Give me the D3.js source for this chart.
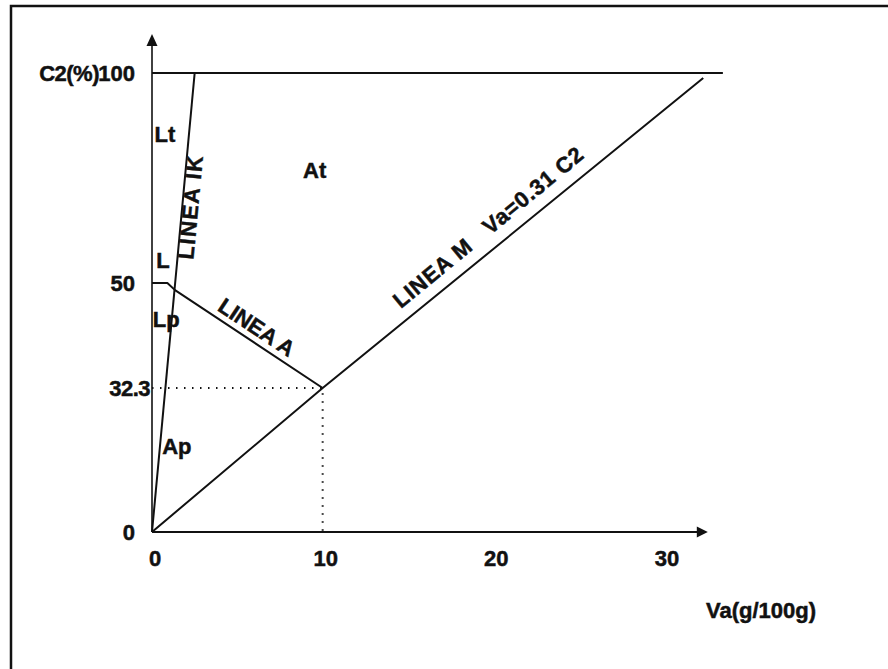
<!DOCTYPE html>
<html>
<head>
<meta charset="utf-8">
<script src="https://cdn.jsdelivr.net/npm/d3@7"></script>
<style>
  html, body { margin: 0; padding: 0; background: #fff; }
  svg text { font-family: "Liberation Sans", Arial, Helvetica, sans-serif; font-weight: bold;
             fill: #111; stroke: #111; stroke-width: 0.5px; }
</style>
</head>
<body>
<svg id="chart" width="888" height="669"></svg>
<script>
// Va (g/100g) on x, C2 (%) on y
const xTicks = [0, 10, 20, 30];
const yTicks = [0, 50, 100];
const yBreaks = [0, 32.3, 50, 100];          // the C2 axis is drawn out of proportion

// boundary lines of the diagram, as [Va, C2] points
const lineTop = [[0, 100], [33.45, 100]];
const lineIK  = [[0, 0], [2.5, 100]];
const lineA   = [[0, 50], [0.9, 50], [1.35, 48.8], [10, 32.3]];
const lineM   = [[0, 0], [10, 32.3], [32.3, 98.8]];
const crossPt = [10, 32.3];

// region labels [text, Va, C2]
const regions = [
  ["Lt", 0.15, 83.5],
  ["At", 8.85, 75.0],
  ["L",  0.25, 53.6],
  ["Lp", 0.05, 42.6],
  ["Ap", 0.6, 17.5]
];

const svg = d3.select("#chart");
const x = d3.scaleLinear().domain([0, 30]).range([152, 664]);
const y = d3.scaleLinear().domain(yBreaks).range([532, 388, 283, 73]);
const ink = "#111";
const fs = 22;

// page frame
svg.append("path").attr("d", "M11,669V6H888").attr("fill", "none")
  .attr("stroke", ink).attr("stroke-width", 2.5);

const line = d3.line().x(d => x(d[0])).y(d => y(d[1]));

// axes with arrowheads
const xEnd = x(32.1), yEnd = y(100) - 29;
svg.append("line").attr("x1", x(0)).attr("y1", y(0)).attr("x2", xEnd).attr("y2", y(0))
  .attr("stroke", ink).attr("stroke-width", 2.2);
svg.append("line").attr("x1", x(0)).attr("y1", y(0)).attr("x2", x(0)).attr("y2", yEnd)
  .attr("stroke", ink).attr("stroke-width", 1.6);
svg.append("path").attr("fill", ink)
  .attr("d", `M${xEnd - 3},${y(0) - 5.5}L${xEnd + 8},${y(0)}L${xEnd - 3},${y(0) + 5.5}Z`);
svg.append("path").attr("fill", ink)
  .attr("d", `M${x(0) - 5.5},${yEnd + 2}L${x(0)},${yEnd - 10}L${x(0) + 5.5},${yEnd + 2}Z`);

// tick labels
svg.selectAll(".xt").data(xTicks).join("text")
  .attr("x", d => x(d) + 3).attr("y", y(0) + 34)
  .attr("text-anchor", "middle").attr("font-size", fs).text(d => d);
svg.selectAll(".yt").data(yTicks).join("text")
  .attr("x", 135).attr("y", d => y(d) + 8)
  .attr("text-anchor", "end").attr("font-size", fs).text(d => d);

// axis titles
svg.append("text").attr("x", 99).attr("y", y(100) + 8).attr("text-anchor", "end")
  .attr("font-size", fs).attr("letter-spacing", -0.5).text("C2(%)");
svg.append("text").attr("x", 706).attr("y", 618).attr("font-size", fs).text("Va(g/100g)");

// boundaries
[lineTop, lineIK, lineA, lineM].forEach(pts => {
  svg.append("path").attr("d", line(pts)).attr("fill", "none")
    .attr("stroke", ink).attr("stroke-width", 2).attr("stroke-linejoin", "round");
});

// dotted guides to the intersection of LINEA A and LINEA M
svg.append("path").attr("d", line([[0, crossPt[1]], crossPt, [crossPt[0], 0]]))
  .attr("fill", "none").attr("stroke", ink).attr("stroke-width", 2)
  .attr("stroke-dasharray", "1.5,6.5");
svg.append("text").attr("x", 150).attr("y", y(crossPt[1]) + 8)
  .attr("text-anchor", "end").attr("font-size", fs).attr("letter-spacing", -0.5).text(crossPt[1]);

// region names
svg.selectAll(".rg").data(regions).join("text")
  .attr("x", d => x(d[1])).attr("y", d => y(d[2]))
  .attr("font-size", fs).text(d => d[0]);

// text laid along a segment: offset is perpendicular distance of the baseline
function along(label, p0, p1, t, offset, size, spacing) {
  const a = [x(p0[0]), y(p0[1])], b = [x(p1[0]), y(p1[1])];
  const ang = Math.atan2(b[1] - a[1], b[0] - a[0]);
  const nx = Math.sin(ang), ny = -Math.cos(ang);
  const px = a[0] + (b[0] - a[0]) * t + nx * offset;
  const py = a[1] + (b[1] - a[1]) * t + ny * offset;
  svg.append("text")
    .attr("transform", `translate(${px},${py}) rotate(${ang * 180 / Math.PI})`)
    .attr("text-anchor", "middle").attr("font-size", size)
    .attr("letter-spacing", spacing).style("white-space", "pre")
    .text(label);
}

along("LINEA IK", lineIK[0], lineIK[1], 0.71, -16, fs, 1.5);
along("LINEA A", lineA[2], lineA[3], 0.5, 6.5, fs, 0);
along("LINEA M   Va=0.31 C2", lineM[0], lineM[2], 0.635, 14, fs, 0.8);
</script>
</body>
</html>
